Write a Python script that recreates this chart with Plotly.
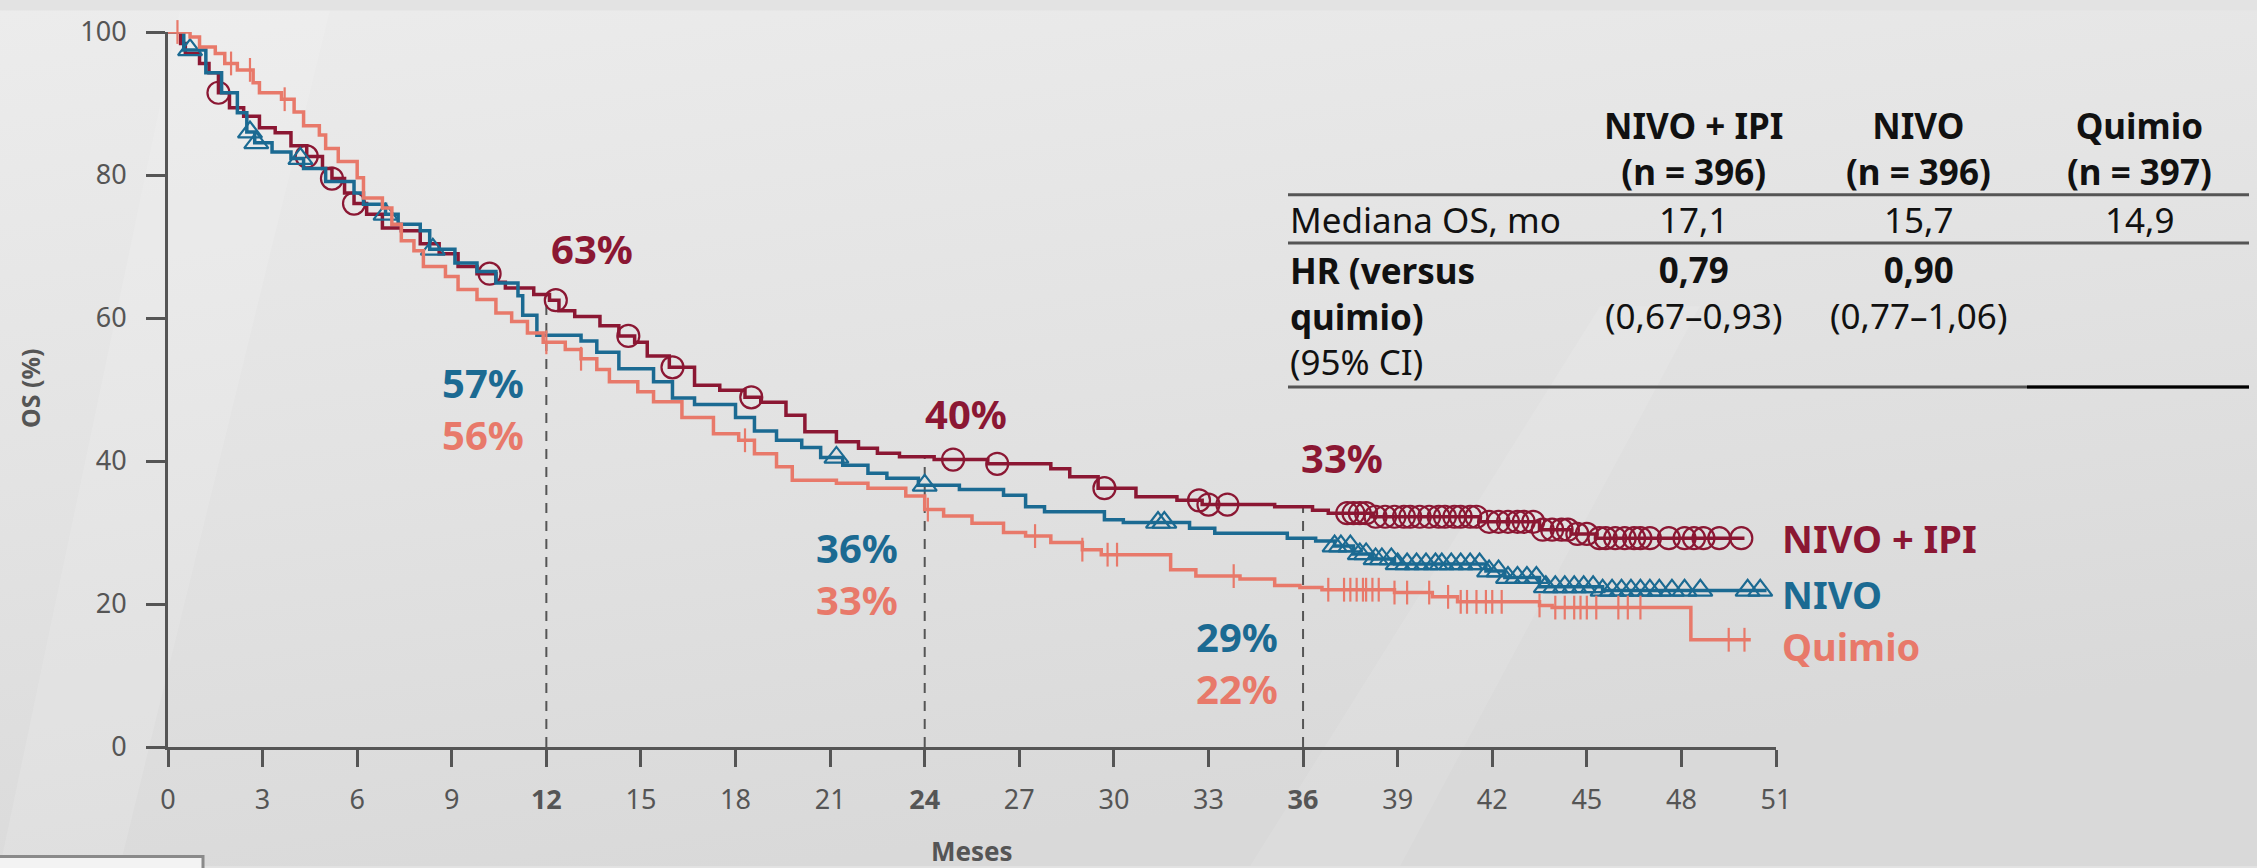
import base64
import numpy as np
import plotly.graph_objects as go

# ---------------- data ----------------
arms = ["NIVO + IPI", "NIVO", "Quimio"]
arm_n = [396, 396, 397]

iv_t = [0, 0.4, 0.55, 1.0, 1.3, 1.6, 1.95, 2.4, 2.9, 3.4, 3.9, 4.4, 4.9, 5.2, 5.6, 5.9, 6.3, 6.8, 7.4,
        8.0, 8.6, 9.2, 9.8, 10.4, 10.7, 11.6, 12.1, 12.4, 12.9, 13.7, 14.3, 14.8, 15.2, 15.9, 16.7,
        17.5, 18.3, 18.8, 19.6, 20.2, 21.2, 21.9, 22.5, 23.2, 24.3, 26.0, 28.0, 28.6, 29.5, 30.7,
        32.0, 32.8, 35.1, 36.3, 36.8, 38.2, 41.6, 43.5, 44.5, 45.3]
iv_s = [100, 98.4, 97.0, 95.6, 94.3, 91.5, 89.4, 88.2, 86.6, 85.9, 84.1, 82.6, 80.9, 79.5, 77.5, 76.0,
        74.5, 72.6, 72.2, 70.4, 69.0, 67.2, 66.2, 65.0, 64.2, 63.3, 62.5, 61.0, 60.2, 58.9, 57.5,
        56.6, 54.7, 53.1, 50.6, 49.9, 48.9, 48.2, 46.4, 44.1, 42.7, 41.8, 41.1, 40.6, 40.2, 39.6,
        38.9, 37.8, 36.2, 35.0, 34.5, 33.9, 33.6, 33.1, 32.7, 32.2, 31.5, 30.4, 29.8, 29.2]
iv_end = 50.0
iv_cens = [1.6, 4.4, 5.2, 5.9, 10.2, 12.3, 14.6, 16.0, 18.5, 24.9, 26.3, 29.7, 32.7, 33.0, 33.6,
           37.4, 37.6, 37.8, 38.0, 38.3, 38.6, 38.9, 39.2, 39.4, 39.7, 40.0, 40.3, 40.5, 40.8, 41.0,
           41.3, 41.5, 41.9, 42.2, 42.5, 42.8, 43.0, 43.3, 43.6, 43.9, 44.2, 44.4, 44.7, 45.0, 45.4,
           45.6, 45.9, 46.2, 46.5, 46.7, 47.0, 47.6, 48.1, 48.4, 48.7, 49.2, 49.9]

nv_t = [0, 0.5, 1.2, 1.7, 2.2, 2.5, 2.75, 3.3, 3.9, 4.3, 5.0, 5.9, 6.2, 6.9, 7.3, 8.0, 8.3, 9.1, 9.8,
        10.4, 11.1, 11.25, 11.7, 13.1, 13.6, 14.3, 15.4, 16.0, 16.7, 18.0, 18.6, 19.3, 20.1, 20.7,
        21.4, 22.2, 22.8, 23.8, 25.1, 26.5, 27.2, 27.8, 29.7, 30.3, 32.4, 33.2, 35.5, 36.4, 37.0,
        37.6, 38.2, 38.9, 41.8, 42.4, 43.5, 45.5]
nv_s = [100, 97.5, 94.3, 91.5, 88.7, 86.0, 84.5, 83.2, 82.3, 80.9, 79.1, 77.5, 75.9, 74.5, 73.1, 72.2,
        69.6, 67.7, 66.5, 64.9, 63.1, 60.4, 57.6, 56.8, 55.2, 52.9, 51.1, 48.8, 47.9, 46.1, 44.2,
        42.9, 41.9, 40.5, 39.4, 38.3, 37.6, 36.6, 36.0, 35.2, 33.6, 32.9, 31.8, 31.4, 30.6, 29.9,
        29.2, 28.8, 28.1, 27.0, 26.3, 25.6, 24.6, 23.7, 22.4, 21.9]
nv_end = 50.7
nv_cens = [0.7, 2.6, 2.8, 4.2, 6.9, 8.4, 21.2, 24.0, 31.4, 31.6, 37.0, 37.2, 37.5, 37.8, 38.0, 38.3,
           38.5, 38.8, 39.0, 39.3, 39.6, 39.9, 40.2, 40.4, 40.7, 41.0, 41.3, 41.6, 41.9, 42.2, 42.5,
           42.8, 43.1, 43.4, 43.7, 44.0, 44.3, 44.6, 44.9, 45.2, 45.5, 45.8, 46.1, 46.4, 46.7, 47.0,
           47.3, 47.7, 48.1, 48.6, 50.1, 50.5]

qm_t = [0, 0.7, 1.0, 1.5, 1.8, 2.2, 2.7, 2.9, 3.6, 4.0, 4.3, 4.8, 5.0, 5.4, 6.0, 6.2, 6.8, 7.1, 7.4,
        7.8, 8.1, 8.8, 9.2, 9.8, 10.4, 10.9, 11.4, 11.9, 12.6, 13.1, 13.6, 14.0, 14.9, 15.4, 16.3,
        17.3, 18.1, 18.6, 19.3, 19.8, 21.2, 22.2, 23.4, 24.0, 24.6, 25.5, 26.5, 27.2, 28.0, 29.0,
        29.6, 31.8, 32.6, 34.0, 35.1, 35.9, 36.6, 38.9, 40.1, 40.9, 43.5, 43.9, 48.3]
qm_s = [100, 99.3, 97.9, 97.0, 95.6, 94.7, 92.9, 91.5, 90.6, 88.8, 86.9, 85.6, 83.7, 81.9, 79.6, 76.8,
        75.4, 73.1, 70.8, 69.4, 67.2, 65.8, 64.0, 62.6, 60.7, 59.5, 57.9, 56.6, 55.6, 54.3, 52.8,
        51.1, 49.7, 48.3, 46.1, 43.8, 42.9, 41.0, 39.2, 37.3, 36.9, 36.2, 35.1, 33.2, 32.3, 31.3,
        30.0, 29.5, 28.6, 27.6, 26.9, 24.8, 23.9, 23.5, 22.6, 22.3, 22.0, 21.6, 21.0, 20.3, 19.8,
        19.5, 15.0]
qm_end = 50.2
qm_cens = [0.3, 2.0, 2.6, 3.7, 12.0, 13.1, 18.3, 24.1, 27.5, 29.0, 29.8, 30.1, 33.8, 36.8, 37.3,
           37.5, 37.7, 37.9, 38.0, 38.2, 38.4, 38.9, 39.3, 40.0, 40.6, 41.0, 41.2, 41.5, 41.8, 42.0,
           42.3, 43.5, 44.0, 44.3, 44.6, 44.8, 45.0, 45.3, 46.0, 46.3, 46.7, 49.5, 50.0]

landmark_months = [12, 24, 36]
landmark_pct = [[63, 57, 56], [40, 36, 33], [33, 29, 22]]  # per month: NIVO+IPI, NIVO, Quimio

x_ticks = list(range(0, 52, 3))
y_ticks = [0, 20, 40, 60, 80, 100]

median_os = ["17,1", "15,7", "14,9"]
hr_vals = ["0,79", "0,90", ""]
hr_ci = ["(0,67–0,93)", "(0,77–1,06)", ""]

# ---------------- styling ----------------
COLORS = ["#8B1733", "#1B6A92", "#E8796A"]
SYMBOLS = ["circle-open", "triangle-up-open", "line-ns-open"]
MSIZES = [22, 21, 17]
GRAY = "#555555"
W, H = 2257, 868
L, R, T, B = 168, 481, 22, 121
PW, PH = W - L - R, H - T - B


def px(x):
    return (x - L) / PW


def py(y):
    return (H - B - y) / PH


def step_at(ts, vs, t):
    i = int(np.searchsorted(np.asarray(ts), t, side="right")) - 1
    return vs[max(i, 0)]


series = [(iv_t, iv_s, iv_end, iv_cens), (nv_t, nv_s, nv_end, nv_cens), (qm_t, qm_s, qm_end, qm_cens)]

fig = go.Figure()

# landmark dashed lines (to NIVO+IPI curve)
for m in landmark_months:
    top = step_at(iv_t, iv_s, m)
    fig.add_trace(go.Scatter(x=[m, m], y=[0, top], mode="lines",
                             line=dict(color=GRAY, width=2, dash="10px,8px"),
                             hoverinfo="skip", showlegend=False))

for k, (ts, vs, end, cens) in enumerate(series):
    fig.add_trace(go.Scatter(x=list(ts) + [end], y=list(vs) + [vs[-1]], mode="lines",
                             line=dict(color=COLORS[k], width=3.5, shape="hv"),
                             name=arms[k], showlegend=False))
    fig.add_trace(go.Scatter(x=cens, y=[step_at(ts, vs, c) for c in cens], mode="markers",
                             marker=dict(symbol=SYMBOLS[k], size=MSIZES[k], color=COLORS[k],
                                         line=dict(color=COLORS[k], width=2.2)),
                             cliponaxis=False, showlegend=False, hoverinfo="skip"))

annotations = []
# label anchor positions (data units): NIVO+IPI label above, NIVO/Quimio pair below
red_pos = {12: (13.45, 69.7), 24: (25.3, 46.6), 36: (37.25, 40.5)}
pair_pos = {12: (10.0, 47.4), 24: (21.85, 24.3), 36: (33.9, 11.8)}
for m, pcts in zip(landmark_months, landmark_pct):
    x, y = red_pos[m]
    annotations.append(dict(x=x, y=y, xref="x", yref="y", text=f"<b>{pcts[0]}%</b>", showarrow=False,
                            font=dict(family="Noto Sans", size=40, color=COLORS[0]),
                            xanchor="center", yanchor="middle"))
    x, y = pair_pos[m]
    txt = (f'<b><span style="color:{COLORS[1]}">{pcts[1]}%</span><br>'
           f'<span style="color:{COLORS[2]}">{pcts[2]}%</span></b>')
    annotations.append(dict(x=x, y=y, xref="x", yref="y", text=txt, showarrow=False,
                            font=dict(family="Noto Sans", size=40, color=COLORS[1]),
                            xanchor="center", yanchor="middle"))

end_y = [29.2, 21.4, 14.1]
for k in range(3):
    annotations.append(dict(x=px(1780), y=end_y[k], xref="paper", yref="y", text=f"<b>{arms[k]}</b>",
                            showarrow=False, xanchor="left", yanchor="middle",
                            font=dict(family="Noto Sans", size=38, color=COLORS[k])))

annotations.append(dict(x=px(30), y=py(383), xref="paper", yref="paper", text="<b>OS (%)</b>",
                        textangle=-90, showarrow=False, xanchor="center", yanchor="middle",
                        font=dict(family="Noto Sans", size=25, color=GRAY)))
annotations.append(dict(x=0.5, y=py(852), xref="paper", yref="paper", text="<b>Meses</b>",
                        showarrow=False, xanchor="center", yanchor="middle",
                        font=dict(family="Noto Sans", size=26, color=GRAY)))

# table
col_x = [1693, 1918, 2139]
TF = "Noto Sans"
TS = 35
TC = "#111111"
for k in range(3):
    annotations.append(dict(x=px(col_x[k]), y=py(140), xref="paper", yref="paper",
                            text=f"<b>{arms[k]}<br>(n = {arm_n[k]})</b>", showarrow=False,
                            xanchor="center", yanchor="middle", align="center",
                            font=dict(family=TF, size=TS, color=TC)))
    annotations.append(dict(x=px(col_x[k]), y=py(212), xref="paper", yref="paper",
                            text=median_os[k], showarrow=False, xanchor="center", yanchor="middle",
                            font=dict(family=TF, size=TS, color=TC)))
    if hr_vals[k]:
        annotations.append(dict(x=px(col_x[k]), y=py(286), xref="paper", yref="paper",
                                text=f"<b>{hr_vals[k]}</b><br>{hr_ci[k]}", showarrow=False,
                                xanchor="center", yanchor="middle", align="center",
                                font=dict(family=TF, size=TS, color=TC)))
annotations.append(dict(x=px(1288), y=py(212), xref="paper", yref="paper", text="Mediana OS, mo",
                        showarrow=False, xanchor="left", yanchor="middle",
                        font=dict(family=TF, size=TS, color=TC)))
annotations.append(dict(x=px(1288), y=py(310), xref="paper", yref="paper",
                        text="<b>HR (versus<br>quimio)</b><br>(95% CI)", showarrow=False,
                        xanchor="left", yanchor="middle", align="left",
                        font=dict(family=TF, size=TS, color=TC)))

shapes = []
for yy in [187, 236, 382]:
    shapes.append(dict(type="line", xref="paper", yref="paper", x0=px(1288), x1=px(2249),
                       y0=py(yy), y1=py(yy), line=dict(color="#555555", width=3)))
shapes.append(dict(type="line", xref="paper", yref="paper", x0=px(2027), x1=px(2249),
                   y0=py(382), y1=py(382), line=dict(color="#000000", width=3)))
shapes.append(dict(type="rect", xref="paper", yref="paper", x0=px(-5), x1=px(203), y0=py(875), y1=py(858),
                   fillcolor="#f3f3f3", line=dict(color="#8a8a8a", width=3), layer="below"))

# soft background gradient (inline SVG, no network)
svg = (f'<svg xmlns="http://www.w3.org/2000/svg" width="{W}" height="{H}" viewBox="0 0 {W} {H}">'
       '<defs><linearGradient id="g" x1="0" y1="0" x2="0.35" y2="1">'
       '<stop offset="0" stop-color="#ececec"/><stop offset="0.55" stop-color="#e2e2e2"/>'
       '<stop offset="1" stop-color="#d9d9d9"/></linearGradient></defs>'
       f'<rect width="{W}" height="{H}" fill="url(#g)"/>'
       f'<polygon points="0,{H} 120,{H} 330,0 180,0" fill="#ffffff" opacity="0.12"/>'
       f'<polygon points="1250,{H} 1400,{H} 1700,300 1600,300" fill="#ffffff" opacity="0.10"/>'
       '</svg>')
bg_src = "data:image/svg+xml;base64," + base64.b64encode(svg.encode()).decode()

fig.update_layout(
    width=W, height=H,
    margin=dict(l=L, r=R, t=T, b=B, pad=0),
    paper_bgcolor="#e3e3e3", plot_bgcolor="rgba(0,0,0,0)",
    showlegend=False,
    annotations=annotations, shapes=shapes,
    images=[dict(source=bg_src, xref="paper", yref="paper", x=px(0), y=py(0),
                 sizex=W / PW, sizey=H / PH, sizing="stretch", xanchor="left", yanchor="top",
                 layer="below")],
    font=dict(family="Noto Sans", color=GRAY),
)
fig.update_xaxes(range=[0, 51], tickvals=x_ticks,
                 ticktext=[f"<b>{v}</b>" if v in landmark_months else str(v) for v in x_ticks],
                 showline=True, linecolor=GRAY, linewidth=3, ticks="outside", ticklen=17, tickwidth=3,
                 tickcolor=GRAY, showgrid=False, zeroline=False, ticklabelstandoff=10,
                 tickfont=dict(family="Noto Sans", size=27, color=GRAY))
fig.update_yaxes(range=[0, 100], tickvals=y_ticks, showline=True, linecolor=GRAY, linewidth=3,
                 ticks="outside", ticklen=19, tickwidth=3, tickcolor=GRAY, showgrid=False, zeroline=False,
                 ticklabelstandoff=14, tickfont=dict(family="Noto Sans", size=27, color=GRAY))

fig.write_html("out.html", config={"displayModeBar": False},
               post_script="document.body.style.margin='0';document.body.style.padding='0';"
                           "document.documentElement.style.overflow='hidden';")
